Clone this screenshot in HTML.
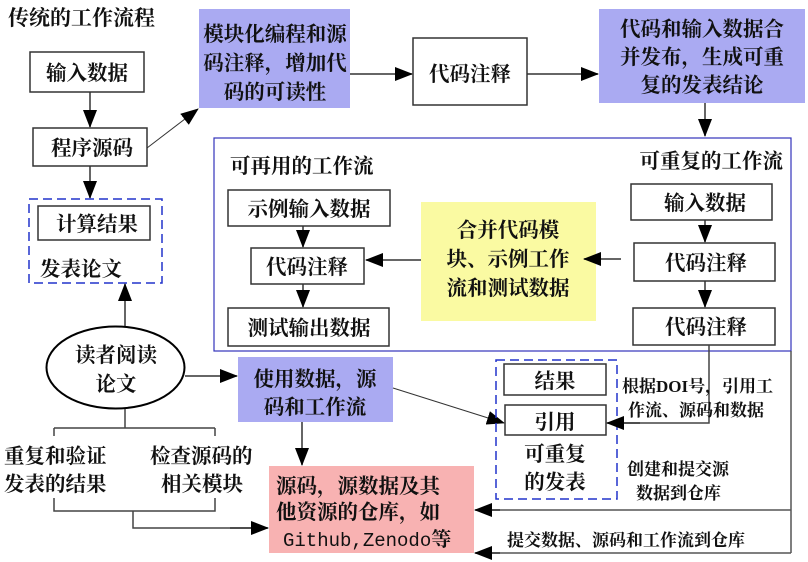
<!DOCTYPE html>
<html><head><meta charset="utf-8"><style>
html,body{margin:0;padding:0;background:#fff}
svg{display:block}
text{font-family:"Liberation Serif","Noto Serif CJK SC",serif;font-weight:bold;fill:#111}
</style></head><body>
<svg width="808" height="562" viewBox="0 0 808 562" xmlns="http://www.w3.org/2000/svg">
<defs>
<marker id="b" markerWidth="18" markerHeight="14" refX="17" refY="7" orient="auto" markerUnits="userSpaceOnUse">
<path d="M0,0 L18,7 L0,14 z" fill="#000"/></marker>
</defs>
<g font-size="20.5">
<text x="8" y="25" font-size="21">传统的工作流程</text>

<rect x="30" y="52" width="114" height="40" fill="#fff" stroke="#333" stroke-width="1.5"/>
<text x="87" y="80" text-anchor="middle">输入数据</text>
<line x1="90" y1="92" x2="90" y2="127" stroke="#333" stroke-width="1.5" marker-end="url(#b)"/>
<rect x="33" y="128" width="114" height="38" fill="#fff" stroke="#333" stroke-width="1.5"/>
<text x="92" y="155" text-anchor="middle">程序源码</text>
<line x1="90" y1="166" x2="90" y2="198" stroke="#333" stroke-width="1.5" marker-end="url(#b)"/>
<rect x="29" y="199" width="133" height="84" fill="none" stroke="#2233cc" stroke-width="1.5" stroke-dasharray="9,5"/>
<rect x="38" y="206" width="112" height="34" fill="#fff" stroke="#333" stroke-width="1.5"/>
<text x="97" y="231" text-anchor="middle">计算结果</text>
<text x="40" y="276">发表论文</text>

<line x1="147" y1="148" x2="198" y2="109" stroke="#333" stroke-width="1" marker-end="url(#b)"/>
<rect x="199" y="9" width="151" height="99" fill="#aaaaf2"/>
<g text-anchor="middle"><text x="275" y="41" fill="#1a1a40">模块化编程和源</text><text x="275" y="70" fill="#1a1a40">码注释，增加代</text><text x="275" y="99" fill="#1a1a40">码的可读性</text></g>
<line x1="350" y1="74" x2="412" y2="74" stroke="#333" stroke-width="1.5" marker-end="url(#b)"/>
<rect x="413" y="38" width="114" height="67" fill="#fff" stroke="#333" stroke-width="1.5"/>
<text x="470" y="81" text-anchor="middle">代码注释</text>
<line x1="527" y1="74" x2="598" y2="74" stroke="#333" stroke-width="1.5" marker-end="url(#b)"/>
<rect x="599" y="9" width="206" height="94" fill="#aaaaf2"/>
<g text-anchor="middle"><text x="702" y="36" fill="#1a1a40">代码和输入数据合</text><text x="702" y="64" fill="#1a1a40">并发布，生成可重</text><text x="702" y="92" fill="#1a1a40">复的发表结论</text></g>
<line x1="705" y1="103" x2="705" y2="136" stroke="#333" stroke-width="1.5" marker-end="url(#b)"/>

<rect x="214" y="138" width="577" height="213" fill="none" stroke="#3333bb" stroke-width="1.2"/>
<text x="230" y="173">可再用的工作流</text>
<text x="783" y="168" text-anchor="end">可重复的工作流</text>
<rect x="228" y="190" width="162" height="36" fill="#fff" stroke="#333" stroke-width="1.5"/>
<text x="309" y="216" text-anchor="middle">示例输入数据</text>
<line x1="303" y1="226" x2="303" y2="247" stroke="#333" stroke-width="1.5" marker-end="url(#b)"/>
<rect x="251" y="248" width="113" height="36" fill="#fff" stroke="#333" stroke-width="1.5"/>
<text x="307" y="274" text-anchor="middle">代码注释</text>
<line x1="303" y1="284" x2="303" y2="307" stroke="#333" stroke-width="1.5" marker-end="url(#b)"/>
<rect x="228" y="308" width="161" height="38" fill="#fff" stroke="#333" stroke-width="1.5"/>
<text x="309" y="335" text-anchor="middle">测试输出数据</text>

<rect x="421" y="202" width="175" height="119" fill="#fafaa2"/>
<g text-anchor="middle"><text x="508" y="237" fill="#555530">合并代码模</text><text x="508" y="266" fill="#555530">块、示例工作</text><text x="508" y="295" fill="#555530">流和测试数据</text></g>
<line x1="421" y1="260" x2="366" y2="260" stroke="#333" stroke-width="1.5" marker-end="url(#b)"/>
<line x1="621" y1="259" x2="584" y2="259" stroke="#333" stroke-width="1.5" marker-end="url(#b)"/>

<rect x="631" y="184" width="141" height="36" fill="#fff" stroke="#333" stroke-width="1.5"/>
<text x="705" y="210" text-anchor="middle">输入数据</text>
<line x1="705" y1="220" x2="705" y2="242" stroke="#333" stroke-width="1.5" marker-end="url(#b)"/>
<rect x="634" y="243" width="141" height="38" fill="#fff" stroke="#333" stroke-width="1.5"/>
<text x="706" y="270" text-anchor="middle">代码注释</text>
<line x1="705" y1="281" x2="705" y2="307" stroke="#333" stroke-width="1.5" marker-end="url(#b)"/>
<rect x="633" y="308" width="142" height="37" fill="#fff" stroke="#333" stroke-width="1.5"/>
<text x="706" y="334" text-anchor="middle">代码注释</text>

<ellipse cx="115.5" cy="367.5" rx="69" ry="41" fill="#fff" stroke="#000" stroke-width="2"/>
<text x="116" y="362" text-anchor="middle">读者阅读</text>
<text x="116" y="391" text-anchor="middle">论文</text>
<line x1="125" y1="326" x2="125" y2="284" stroke="#333" stroke-width="1.5" marker-end="url(#b)"/>
<line x1="185" y1="376" x2="237" y2="376" stroke="#333" stroke-width="1.5" marker-end="url(#b)"/>
<rect x="238" y="357" width="155" height="65" fill="#aaaaf2"/>
<g text-anchor="middle"><text x="315" y="386" fill="#1a1a40">使用数据，源</text><text x="315" y="414" fill="#1a1a40">码和工作流</text></g>

<path d="M125,409 V428 M54,428 H215 M54,428 V511 H215 V428 M133,511 V528 H267" fill="none" stroke="#444" stroke-width="1.5"/>
<line x1="230" y1="528" x2="268" y2="528" stroke="#333" stroke-width="1.5" marker-end="url(#b)"/>
<rect x="3" y="436" width="116" height="62" fill="#fff"/>
<rect x="147" y="436" width="120" height="62" fill="#fff"/>
<text x="4" y="463">重复和验证</text><text x="4" y="491">发表的结果</text>
<text x="150" y="463">检查源码的</text><text x="161" y="491">相关模块</text>

<line x1="302" y1="422" x2="302" y2="465" stroke="#333" stroke-width="1.5" marker-end="url(#b)"/>
<rect x="269" y="466" width="205" height="87" fill="#f8b2b2"/>
<text x="276" y="493">源码，源数据及其</text>
<text x="276" y="519">他资源的仓库，如</text>
<text x="283" y="546" style="font-family:'Liberation Mono',monospace;font-weight:normal;font-size:19px">Github,Zenodo<tspan style="font-family:'Noto Serif CJK SC',serif;font-weight:bold;font-size:20px">等</tspan></text>

<line x1="393" y1="388" x2="504" y2="423" stroke="#333" stroke-width="1" marker-end="url(#b)"/>
<rect x="496" y="360" width="121" height="139" fill="none" stroke="#2233cc" stroke-width="1.5" stroke-dasharray="9,5"/>
<rect x="504" y="364" width="102" height="31" fill="#fff" stroke="#333" stroke-width="1.5"/>
<text x="555" y="388" text-anchor="middle">结果</text>
<rect x="505" y="405" width="101" height="30" fill="#fff" stroke="#333" stroke-width="1.5"/>
<text x="555" y="429" text-anchor="middle">引用</text>
<text x="555" y="461" text-anchor="middle">可重复</text>
<text x="555" y="489" text-anchor="middle">的发表</text>

<path d="M709,345 V423 H608" fill="none" stroke="#444" stroke-width="1.5"/>
<line x1="640" y1="423" x2="607" y2="423" stroke="#333" stroke-width="1.5" marker-end="url(#b)"/>
<g font-size="17"><text x="622" y="392">根据DOI号，引用工</text><text x="628" y="416">作流、源码和数据</text>
<text x="627" y="475">创建和提交源</text><text x="636" y="499">数据到仓库</text>
<text x="507" y="546">提交数据、源码和工作流到仓库</text></g>

<path d="M791,351 V553 M791,510 H476 M791,553 H476" fill="none" stroke="#555" stroke-width="1.5"/>
<line x1="500" y1="510" x2="475" y2="510" stroke="#333" stroke-width="1.5" marker-end="url(#b)"/>
<line x1="500" y1="553" x2="475" y2="553" stroke="#333" stroke-width="1.5" marker-end="url(#b)"/>
</g>
</svg>
</body></html>
